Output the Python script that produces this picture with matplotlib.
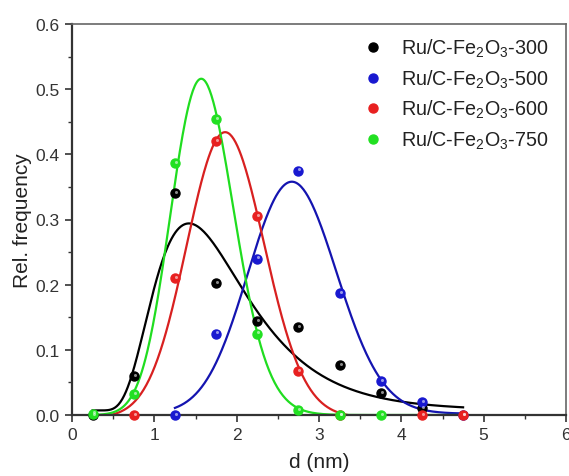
import numpy as np
import matplotlib
matplotlib.use("Agg")
import matplotlib.pyplot as plt
from matplotlib import transforms

plt.rcParams['font.family'] = ['Liberation Sans', 'DejaVu Sans']
plt.rcParams['mathtext.fontset'] = 'custom'
plt.rcParams['mathtext.rm'] = 'Liberation Sans'
plt.rcParams['mathtext.it'] = 'Liberation Sans:italic'

# ---- data ----
d_bins = [0.25, 0.75, 1.25, 1.75, 2.25, 2.75, 3.25, 3.75, 4.25, 4.75]
labels = [r'Ru/C-Fe$_2$O$_3$-300', r'Ru/C-Fe$_2$O$_3$-500',
          r'Ru/C-Fe$_2$O$_3$-600', r'Ru/C-Fe$_2$O$_3$-750']
colors = ['#000000', '#1818d0', '#e82020', '#22e022']
line_colors = ['#000000', '#1414b0', '#d82020', '#20dd20']

freq_300 = [0.0, 0.060, 0.340, 0.203, 0.144, 0.135, 0.076, 0.034, 0.010, None]
freq_500 = [None, None, 0.0, 0.125, 0.240, 0.375, 0.187, 0.052, 0.020, 0.0]
freq_600 = [None, 0.0, 0.210, 0.420, 0.305, 0.067, 0.0, None, 0.0, 0.0]
freq_750 = [0.002, 0.032, 0.387, 0.454, 0.125, 0.007, 0.0, 0.0, None, None]
series = [freq_300, freq_500, freq_600, freq_750]

# fit parameters of the drawn curves: (y0, A, shift, c, w, x_start, x_end)
fit_300 = (0.007, 0.287, 0.20, 1.22, 0.46, 0.25, 4.75)
fit_500 = (0.002, 0.356, -20.0, 22.67, 0.0238, 1.25, 4.75)
fit_600 = (-0.004, 0.438, -20.0, 21.86, 0.0215, 0.25, 4.75)
fit_750 = (0.0, 0.516, -4.0, 5.57, 0.0686, 0.25, 4.75)
fits = [fit_300, fit_500, fit_600, fit_750]


def shifted_lognormal(x, y0, A, s, c, w):
    z = np.clip(x - s, 1e-9, None)
    y = y0 + A * np.exp(-(np.log(z / c)) ** 2 / (2 * w ** 2))
    return np.where(x > s, y, y0)


fig = plt.figure(figsize=(5.69, 4.77), dpi=100)
ax = fig.add_axes([72 / 569, 1 - 416 / 477, (566 - 72) / 569, (416 - 25) / 477])

for vals, fit, col, lcol, lab in zip(series, fits, colors, line_colors, labels):
    y0, A, s, c, w, xa, xb = fit
    xs = np.linspace(xa, xb, 400)
    ax.plot(xs, shifted_lognormal(xs, y0, A, s, c, w), color=lcol, lw=1.6, zorder=2)
    xp = [x for x, v in zip(d_bins, vals) if v is not None]
    yp = [v for v in vals if v is not None]
    ax.plot(xp, yp, 'o', ms=6.5, color=col, mec=col, zorder=3, clip_on=False)
    hl = transforms.offset_copy(ax.transData, fig=fig, x=1.0, y=1.2, units='dots')
    ax.plot(xp, yp, 'o', ms=2.2, color='white', mec='none', alpha=0.55,
            transform=hl, zorder=4, clip_on=False)
    # legend proxy
    ax.plot([], [], 'o', ms=6.5, color=col, label=lab)

ax.set_xlim(0, 6)
ax.set_ylim(0, 0.6)
ax.set_xticks(np.arange(0, 7, 1))
ax.set_yticks(np.arange(0, 0.61, 0.1))
ax.set_yticklabels([f'{v:.1f}' for v in np.arange(0, 0.61, 0.1)])
ax.set_xticks(np.arange(0.5, 6, 1), minor=True)
ax.set_yticks(np.arange(0.05, 0.6, 0.1), minor=True)
ax.tick_params(which='major', direction='out', length=5, width=1.2, labelsize=12.5,
               colors='#333333', pad=4)
ax.tick_params(which='minor', direction='out', length=3, width=1.0, colors='#333333')
for sp in ['left', 'bottom']:
    ax.spines[sp].set_linewidth(1.6)
    ax.spines[sp].set_color('#333333')
for sp in ['top', 'right']:
    ax.spines[sp].set_linewidth(1.2)
    ax.spines[sp].set_color('#666666')

ax.set_xlabel('d (nm)', fontsize=15, color='#222222', labelpad=7)
ax.set_ylabel('Rel. frequency', fontsize=15, color='#222222', labelpad=2)

leg = ax.legend(loc='upper right', bbox_to_anchor=(0.988, 0.997), frameon=False,
                fontsize=14.2, handlelength=0.8, handletextpad=1.0,
                labelspacing=0.42, borderaxespad=0.2)
for t in leg.get_texts():
    t.set_color('#222222')

fig.savefig('out.png', dpi=100)
